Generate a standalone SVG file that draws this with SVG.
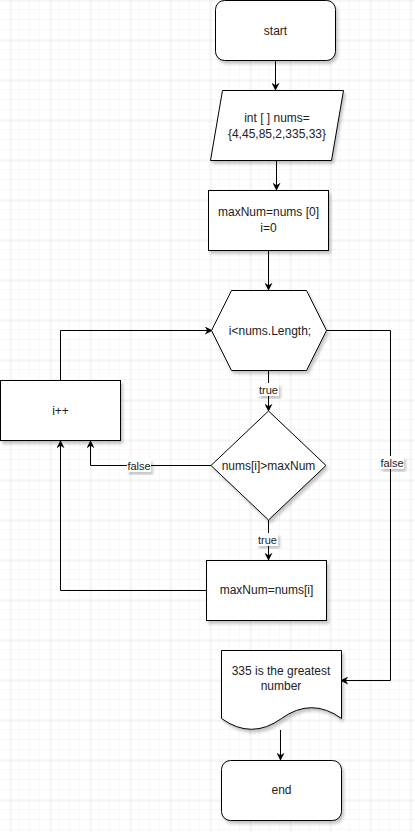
<svg xmlns="http://www.w3.org/2000/svg" width="415" height="832" viewBox="0 0 415 832">
<defs>
<pattern id="minor" width="10" height="10" patternUnits="userSpaceOnUse" x="0" y="0">
<path d="M10 0 V10 M0 10 H10" fill="none" stroke="#f0f0f0" stroke-width="1"/>
</pattern>
<pattern id="major" width="40" height="40" patternUnits="userSpaceOnUse" x="10.5" y="0.5">
<path d="M0 0 V40 M0 0 H40" fill="none" stroke="#dadada" stroke-width="1"/>
</pattern>
<filter id="sh" x="-20%" y="-20%" width="140%" height="140%">
<feDropShadow dx="2" dy="3" stdDeviation="1.5" flood-color="#000" flood-opacity="0.22"/>
</filter>
<marker id="arr" viewBox="0 0 10 10" refX="9" refY="5" markerWidth="8" markerHeight="8" markerUnits="userSpaceOnUse" orient="auto">
<path d="M0 0 L10 5 L0 10 L3 5 Z" fill="#000"/>
</marker>
<style>
.shape{fill:#fff;stroke:#000;stroke-width:1;filter:url(#sh)}
.t{font-family:"Liberation Sans",Arial,sans-serif;font-size:12px;fill:#222;text-anchor:middle}
.lbl{font-family:"Liberation Sans",Arial,sans-serif;font-size:11px;fill:#222;text-anchor:middle}
.edge{fill:none;stroke:#000;stroke-width:1;marker-end:url(#arr)}
.lbg{fill:#fff;filter:url(#sh)}
</style>
</defs>
<rect width="415" height="832" fill="#fff"/>
<rect width="415" height="832" fill="url(#minor)"/>
<rect width="415" height="832" fill="url(#major)"/>

<g id="connectors">
<path class="edge" d="M275.5 61 V90"/>
<path class="edge" d="M276.5 160 V190"/>
<path class="edge" d="M268.5 250 V290"/>
<path class="edge" d="M268.5 370 V411"/>
<path class="edge" d="M268.5 520 V560"/>
<path class="edge" d="M60.5 380 V330.5 H212"/>
<path class="edge" d="M211 465.5 H90.5 V441"/>
<path class="edge" d="M206 590.5 H60.5 V441"/>
<path class="edge" d="M326 330.5 H390.5 V680.5 H341"/>
<path class="edge" d="M280.5 730 V760"/>
<g id="edge-labels">
<rect class="lbg" x="258" y="383" width="21" height="13"/>
<text class="lbl" x="268.5" y="393.5">true</text>
<rect class="lbg" x="127" y="459" width="24" height="13"/>
<text class="lbl" x="139" y="469.5">false</text>
<rect class="lbg" x="257" y="533" width="21" height="13"/>
<text class="lbl" x="267.5" y="543.5">true</text>
<rect class="lbg" x="380" y="456" width="24" height="13"/>
<text class="lbl" x="392" y="466.5">false</text>
</g>
</g>

<g id="start">
<rect class="shape" x="215.5" y="0.5" width="120" height="60" rx="9"/>
<text class="t" x="275.5" y="34.5">start</text>
</g>
<g id="input">
<polygon class="shape" points="222.5,90.5 343.5,90.5 331.5,160.5 210.5,160.5"/>
<text class="t" x="277" y="122">int [ ] nums=</text>
<text class="t" x="277" y="138">{4,45,85,2,335,33}</text>
</g>
<g id="init">
<rect class="shape" x="208.5" y="190.5" width="120" height="60"/>
<text class="t" x="268.5" y="216">maxNum=nums [0]</text>
<text class="t" x="268.5" y="232">i=0</text>
</g>
<g id="loop">
<polygon class="shape" points="231.5,290.5 306.5,290.5 326.5,330.5 306.5,370.5 231.5,370.5 211.5,330.5"/>
<text class="t" x="270" y="334.5">i&lt;nums.Length;</text>
</g>
<g id="incr">
<rect class="shape" x="0.5" y="380.5" width="120" height="60"/>
<text class="t" x="60.5" y="414.5">i++</text>
</g>
<g id="cond">
<polygon class="shape" points="268.5,411 326,465.5 268.5,520 211,465.5"/>
<text class="t" x="268.5" y="469.5">nums[i]&gt;maxNum</text>
</g>
<g id="assign">
<rect class="shape" x="206.5" y="560.5" width="120" height="60"/>
<text class="t" x="266.5" y="594">maxNum=nums[i]</text>
</g>
<g id="output">
<path class="shape" d="M221.5 650.5 H341.5 V718.5 Q311.5 696.9 281.5 718.5 T221.5 718.5 Z"/>
<text class="t" x="281" y="675">335 is the greatest</text>
<text class="t" x="281" y="690">number</text>
</g>
<g id="end">
<rect class="shape" x="221.5" y="760.5" width="120" height="60" rx="9"/>
<text class="t" x="281.5" y="794">end</text>
</g>
</svg>
